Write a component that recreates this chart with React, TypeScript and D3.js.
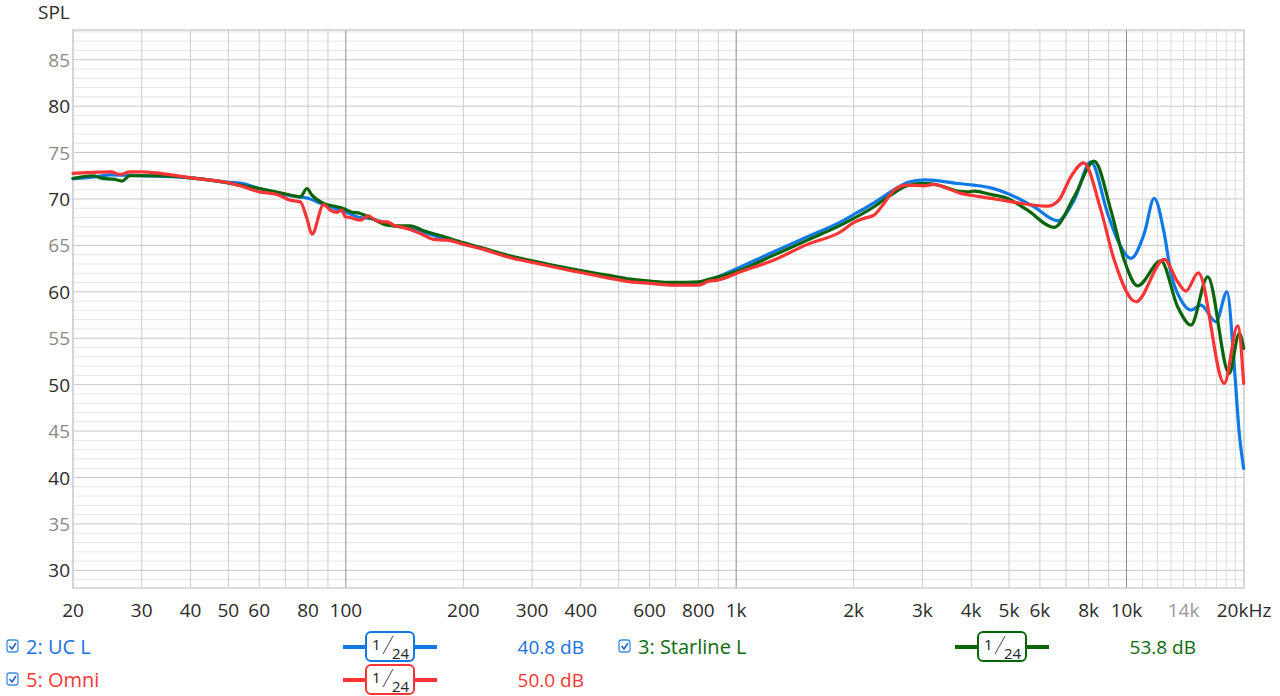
import React from "react";
import * as d3 from "d3";

// ---------- data ----------
const xTickFreqs = [20, 30, 40, 50, 60, 80, 100, 200, 300, 400, 600, 800, 1000, 2000, 3000, 4000, 5000, 6000, 8000, 10000, 14000, 20000];
const xTickLabels = ["20", "30", "40", "50", "60", "80", "100", "200", "300", "400", "600", "800", "1k", "2k", "3k", "4k", "5k", "6k", "8k", "10k", "14k", "20kHz"];
const yTickValues = [30, 35, 40, 45, 50, 55, 60, 65, 70, 75, 80, 85];

const ucL: [number, number][] = [
  [20, 72.2], [23, 72.4], [25, 72.6], [30, 72.5], [40, 72.28], [50, 71.8], [53.6, 71.7], [60, 71.13],
  [73.4, 70.3], [79.5, 70.1], [87.7, 69.4], [99.6, 68.6], [108.9, 68.0], [115.5, 67.9], [122.5, 67.6],
  [132.6, 67.1], [146, 66.9], [158.9, 66.4], [175.3, 65.8], [200.4, 65.2], [225.5, 64.6], [258.9, 63.9],
  [300.2, 63.25], [347.9, 62.7], [403.2, 62.15], [467.2, 61.65], [536.2, 61.25], [603.2, 61.05],
  [692.2, 60.9], [802.3, 60.95], [851.1, 61.25], [1026, 62.69], [1249, 64.31], [1522, 65.93],
  [1853, 67.54], [2004, 68.34], [2255, 69.59], [2488, 70.77], [2746, 71.78], [3028, 72.06], [3344, 71.92],
  [3690, 71.67], [4069, 71.49], [4490, 71.2], [4957, 70.6], [5800, 69.15], [6660, 67.65], [7344, 69.88],
  [8106, 74.0], [8944, 68.45], [9490, 65.57], [10264, 63.6], [11104, 66.29], [11776, 70.06], [12492, 66.29],
  [12998, 61.98], [13790, 59.11], [14628, 58.03], [15516, 58.57], [16953, 56.77], [18090, 60.0],
  [18890, 51.92], [19450, 44.75], [19963, 40.98],
];

const starlineL: [number, number][] = [
  [20, 72.21], [22.5, 72.5], [23.9, 72.21], [25.4, 72.14], [26.7, 71.92], [28, 72.5], [30, 72.5], [33.4, 72.5],
  [40, 72.28], [45, 72.03], [53.6, 71.49], [60, 71.13], [68, 70.67], [73.4, 70.35], [76.4, 70.23],
  [79.5, 71.13], [81.9, 70.41], [87.7, 69.52], [94.9, 69.16], [99.6, 68.9], [102.6, 68.62], [108.9, 68.44],
  [115.5, 67.97], [120.2, 67.61], [127.5, 67.18], [135.2, 67.11], [146, 67.11], [158.9, 66.54],
  [175.3, 66.03], [200.4, 65.28], [225.5, 64.68], [258.9, 63.95], [300.2, 63.34], [347.9, 62.77],
  [403.2, 62.26], [467.2, 61.8], [536.2, 61.37], [603.2, 61.15], [692.2, 61.01], [802.3, 61.08],
  [851.1, 61.34], [1026, 62.34], [1249, 63.95], [1522, 65.57], [1853, 67.18], [2255, 69.16], [2488, 70.42],
  [2746, 71.42], [3028, 71.67], [3344, 71.42], [3690, 70.85], [3913, 70.77], [4069, 70.85], [4490, 70.49],
  [4957, 70.06], [5577, 68.8], [6526, 66.94], [7344, 70.23], [8266, 74.08], [9120, 68.8], [9864, 63.42],
  [10678, 60.65], [12252, 63.34], [13521, 58.39], [14628, 56.42], [16142, 61.62], [18337, 51.21],
  [19450, 55.52], [19963, 53.91],
];

const omni: [number, number][] = [
  [20, 72.75], [22.5, 72.86], [25, 72.93], [26.4, 72.64], [28, 72.93], [30, 72.93], [33.4, 72.75],
  [36, 72.57], [40, 72.28], [45, 72.03], [49.6, 71.78], [53.6, 71.42], [60, 70.77], [66.6, 70.49],
  [72, 69.88], [76.4, 69.7], [79.5, 67.9], [81.9, 66.2], [87.7, 69.4], [91.2, 68.8], [94.9, 68.55],
  [97.7, 68.8], [99.6, 68.1], [102.6, 68.0], [108.9, 67.72], [114.3, 68.19], [117.8, 67.83],
  [122.5, 67.54], [127.5, 67.54], [132.6, 67.18], [143.4, 66.83], [155.2, 66.29], [167.8, 65.64],
  [181.7, 65.57], [200.4, 65.11], [225.5, 64.57], [258.9, 63.77], [300.2, 63.17], [347.9, 62.59],
  [403.2, 62.05], [467.2, 61.51], [536.2, 61.08], [603.2, 60.91], [692.2, 60.72], [802.3, 60.72],
  [851.1, 61.15], [896, 61.26], [1026, 62.16], [1249, 63.42], [1522, 65.11], [1853, 66.47], [2004, 67.48],
  [2125, 67.91], [2255, 68.26], [2391, 69.52], [2537, 70.95], [2746, 71.49], [3028, 71.42], [3212, 71.57],
  [3479, 71.13], [3763, 70.6], [4069, 70.35], [4490, 70.06], [4957, 69.77], [6276, 69.23], [6710, 69.88],
  [7202, 72.39], [7764, 73.89], [8598, 68.8], [9302, 63.42], [10572, 58.93], [12492, 63.49],
  [13521, 61.08], [14203, 60.08], [15270, 62.05], [17804, 50.14], [19267, 56.34], [19963, 50.14],
];

const seriesNames = ["2: UC L", "3: Starline L", "5: Omni"];
const seriesOffsets = ["40.8 dB", "53.8 dB", "50.0 dB"];
const seriesColors = ["#1179e6", "#0a650a", "#fb3535"];
const legendTextColors = ["#1a72e6", "#0b6a0b", "#fb3535"];

// ---------- layout ----------
const W = 1280, H = 696;
const left = 73, right = 1244, top = 30, bottom = 588;

export default function App() {
  const x = d3.scaleLog().domain([20, 20000]).range([left, right]);
  const y = d3.scaleLinear().domain([28.1, 88.2]).range([bottom, top]);

  const line = d3
    .line<[number, number]>()
    .x((d) => x(d[0]))
    .y((d) => y(d[1]))
    .curve(d3.curveMonotoneX);

  const vGrid: number[] = [];
  for (let d = 10; d <= 10000; d *= 10) {
    for (let m = 1; m <= 9; m++) {
      const f = d * m;
      if (f >= 20 && f <= 20000) vGrid.push(f);
    }
  }
  for (let f = 11000; f < 20000; f += 1000) vGrid.push(f);
  const hGrid = d3.range(29, 89);

  const font = "'Open Sans', 'Noto Sans', sans-serif";
  const series = [ucL, starlineL, omni];

  const legendRows = [
    { idx: 0, row: 0, col: 0 },
    { idx: 1, row: 0, col: 1 },
    { idx: 2, row: 1, col: 0 },
  ];

  return (
    <div style={{ position: "fixed", left: 0, top: 0, width: W, height: H, background: "#fff" }}>
      <svg width={W} height={H} style={{ display: "block", fontFamily: font }}>
        <rect x={0} y={0} width={W} height={H} fill="#fff" />
        {/* horizontal grid */}
        {hGrid.map((v) => (
          <line
            key={"h" + v}
            x1={left}
            x2={right}
            y1={y(v)}
            y2={y(v)}
            stroke={v % 5 === 0 ? "#c8c8c8" : "#e6e6e6"}
            strokeWidth={1}
          />
        ))}
        {/* vertical grid */}
        {vGrid.map((f) => {
          const major = f === 100 || f === 1000 || f === 10000;
          return (
            <line
              key={"v" + f}
              x1={x(f)}
              x2={x(f)}
              y1={top}
              y2={bottom}
              stroke={major ? "#8c8c8c" : f > 10000 ? "#dcdcdc" : "#cccccc"}
              strokeWidth={1}
            />
          );
        })}
        <rect x={left} y={top} width={right - left} height={bottom - top} fill="none" stroke="#d0d0d0" strokeWidth={1.5} />

        {/* y labels */}
        {yTickValues.map((v) => (
          <text
            key={"yl" + v}
            x={70}
            y={y(v) + 7}
            textAnchor="end"
            fontSize={19}
            fill={v % 10 === 0 ? "#2b2b2b" : "#8a8a8a"}
          >
            {v}
          </text>
        ))}
        <text x={38} y={19} fontSize={19} fill="#2b2b2b">SPL</text>

        {/* x labels */}
        {xTickFreqs.map((f, i) => (
          <text
            key={"xl" + f}
            x={x(f)}
            y={617}
            textAnchor="middle"
            fontSize={19}
            fill={xTickLabels[i] === "14k" ? "#999" : "#2b2b2b"}
          >
            {xTickLabels[i]}
          </text>
        ))}

        {/* curves */}
        <g fill="none" strokeWidth={3.2} strokeLinejoin="round" strokeLinecap="round">
          {series.map((s, i) => (
            <path key={"s" + i} d={line(s) || ""} stroke={seriesColors[i]} />
          ))}
        </g>

        {/* legend */}
        {legendRows.map(({ idx, row, col }) => {
          const cy = 647 + row * 33;
          const ox = col * 612;
          const c = seriesColors[idx];
          const bx = 366 + ox;
          return (
            <g key={"lg" + idx}>
              <rect x={7 + ox} y={cy - 7} width={11} height={12} rx={2.5} fill="#fff" stroke="#3d8fe6" strokeWidth={1.3} />
              <path d={`M${9.5 + ox},${cy - 1} L${12 + ox},${cy + 2} L${16 + ox},${cy - 4}`} fill="none" stroke="#1a5fc0" strokeWidth={1.5} />
              <text x={26 + ox} y={cy + 7} fontSize={20} fill={legendTextColors[idx]}>
                {seriesNames[idx]}
              </text>
              <line x1={343 + ox} x2={437 + ox} y1={cy} y2={cy} stroke={c} strokeWidth={4} />
              <rect x={bx} y={cy - 15} width={48} height={29} rx={5} fill="#fff" stroke={c} strokeWidth={2} />
              <text x={bx + 6} y={cy + 3} fontSize={15} fill="#222">1</text>
              <line x1={bx + 17} y1={cy + 7} x2={bx + 27} y2={cy - 11} stroke="#444" strokeWidth={1} />
              <text x={bx + 26} y={cy + 12} fontSize={15} fill="#222">24</text>
              <text x={584 + ox} y={cy + 7} fontSize={19} textAnchor="end" fill={legendTextColors[idx]}>
                {seriesOffsets[idx]}
              </text>
            </g>
          );
        })}
      </svg>
    </div>
  );
}
